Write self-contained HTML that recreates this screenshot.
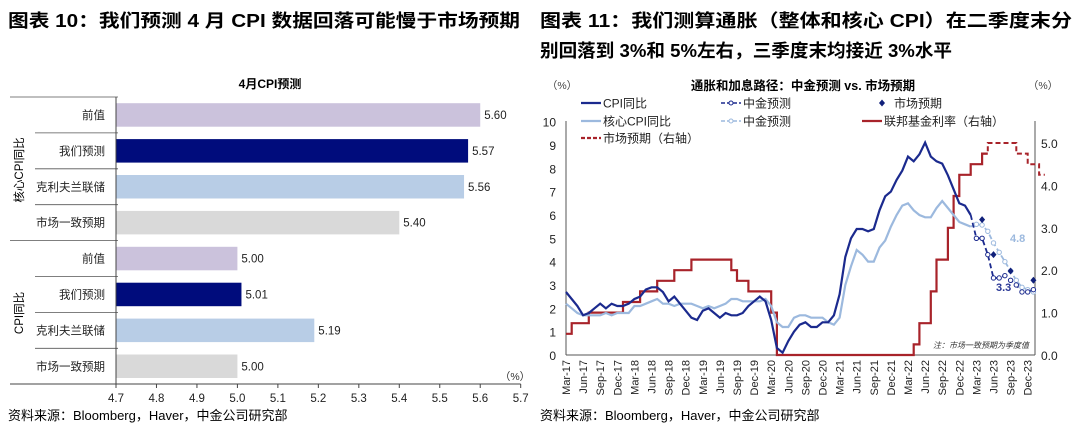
<!DOCTYPE html>
<html><head><meta charset="utf-8"><style>
html,body{margin:0;padding:0;background:#fff;}
svg{display:block;font-family:"Liberation Sans","Noto Sans CJK SC",sans-serif;}
</style></head><body>
<svg id="s" width="1080" height="432" viewBox="0 0 1080 432">
<text x="8" y="27" font-size="18" font-weight="bold" textLength="512" lengthAdjust="spacingAndGlyphs">图表 10：我们预测 4 月 CPI 数据回落可能慢于市场预期</text>
<text x="540" y="27" font-size="18" font-weight="bold" textLength="532" lengthAdjust="spacingAndGlyphs">图表 11：我们测算通胀（整体和核心 CPI）在二季度末分</text>
<text x="540" y="57" font-size="18" font-weight="bold" textLength="412" lengthAdjust="spacingAndGlyphs">别回落到 3%和 5%左右，三季度末均接近 3%水平</text>
<text x="8" y="420" font-size="13">资料来源：Bloomberg，Haver，中金公司研究部</text>
<text x="540" y="420" font-size="13">资料来源：Bloomberg，Haver，中金公司研究部</text>
<g id="left"></g>
<g id="right"></g>
</svg>
<script>
const NS="http://www.w3.org/2000/svg";
function mk(p,t,a,txt){const e=document.createElementNS(NS,t);for(const k in a)e.setAttribute(k,a[k]);if(txt!=null)e.textContent=txt;p.appendChild(e);return e;}

// ---- Left bar chart data ----
const barLabels=["前值","我们预测","克利夫兰联储","市场一致预期","前值","我们预测","克利夫兰联储","市场一致预期"];
const barValues=[5.60,5.57,5.56,5.40,5.00,5.01,5.19,5.00];
const barColors=["#cbc2dc","#000c7c","#b8cde6","#d9d9d9","#cbc2dc","#000c7c","#b8cde6","#d9d9d9"];
const xTicks=[4.7,4.8,4.9,5.0,5.1,5.2,5.3,5.4,5.5,5.6,5.7];

const L=document.getElementById('left');
const bx=v=>116+(v-4.7)*404.7;
const top0=97,rowH=35.9;
let t=mk(L,'text',{x:270,y:88,'font-size':12,'font-weight':'bold','text-anchor':'middle'},'4月CPI预测');

barValues.forEach((v,i)=>{
  const y=top0+i*rowH;
  const r=mk(L,'rect',{x:bx(4.7),y:y+6.2,width:bx(v)-bx(4.7),height:23.5,fill:barColors[i]});
  
  
  const lv=mk(L,'text',{x:bx(v)+4,y:y+22,'font-size':11.5,fill:'#222'},v.toFixed(2));
  
  
  const lb=mk(L,'text',{x:105,y:y+22,'font-size':11.5,'text-anchor':'end',fill:'#222'},barLabels[i]);
  
  
  if(i>0){const ln=mk(L,'line',{x1:(i==4?10:35),x2:118,y1:y,y2:y,stroke:'#555','stroke-width':0.8});
  }
});
mk(L,'line',{x1:10,x2:118,y1:top0,y2:top0,stroke:'#555','stroke-width':0.8});
mk(L,'line',{x1:10,x2:bx(5.7),y1:384,y2:384,stroke:'#444','stroke-width':1});
mk(L,'line',{x1:116,x2:116,y1:top0,y2:384,stroke:'#444','stroke-width':1});
xTicks.forEach(v=>{
  mk(L,'line',{x1:bx(v),x2:bx(v),y1:384,y2:388,stroke:'#444'});
  const tk=mk(L,'text',{x:bx(v),y:402,'font-size':11.5,'text-anchor':'middle',fill:'#222'},v.toFixed(1));
  
  
});
t=mk(L,'text',{x:515,y:380,'font-size':10.5,'text-anchor':'middle',fill:'#333'},'（%）');

t=mk(L,'text',{x:0,y:0,'font-size':11.5,'text-anchor':'middle',transform:'translate(23,170) rotate(-90)'},'核心CPI同比');

t=mk(L,'text',{x:0,y:0,'font-size':11.5,'text-anchor':'middle',transform:'translate(23,313) rotate(-90)'},'CPI同比');


// ---- Right line chart data (month index 0 = Mar-17) ----
const monthLabels=["Mar-17","Jun-17","Sep-17","Dec-17","Mar-18","Jun-18","Sep-18","Dec-18","Mar-19","Jun-19","Sep-19","Dec-19","Mar-20","Jun-20","Sep-20","Dec-20","Mar-21","Jun-21","Sep-21","Dec-21","Mar-22","Jun-22","Sep-22","Dec-22","Mar-23","Jun-23","Sep-23","Dec-23"];
const cpi=[2.7,2.4,2.1,1.7,1.8,2.0,2.2,2.0,2.2,2.1,2.1,2.2,2.4,2.5,2.8,2.9,2.9,2.7,2.3,2.5,2.2,1.9,1.6,1.5,1.9,2.0,1.8,1.6,1.8,1.7,1.7,1.8,2.1,2.3,2.5,2.3,1.5,0.3,0.1,0.6,1.0,1.3,1.4,1.2,1.2,1.4,1.4,1.7,2.6,4.2,5.0,5.4,5.4,5.3,5.4,6.2,6.8,7.0,7.5,7.9,8.5,8.3,8.6,9.1,8.5,8.3,8.2,7.7,7.1,6.5,6.4,6.0];
const cpiForecast=[null,5.0,5.0,4.3,3.3,3.3,3.4,3.2,3.0,2.7,2.7,2.8];
const core=[2.2,2.0,1.8,1.7,1.7,1.7,1.7,1.8,1.7,1.8,1.8,1.8,2.1,2.1,2.2,2.3,2.4,2.2,2.2,2.1,2.2,2.2,2.2,2.1,2.0,2.1,2.0,2.1,2.2,2.4,2.4,2.3,2.3,2.3,2.3,2.4,2.1,1.4,1.2,1.2,1.6,1.7,1.7,1.6,1.6,1.6,1.4,1.3,1.6,3.0,3.8,4.5,4.3,4.0,4.0,4.6,4.9,5.5,6.0,6.4,6.5,6.2,6.0,5.9,5.9,6.3,6.6,6.3,6.0,5.7,5.6,5.5];
const coreForecast=[null,5.6,5.57,5.3,4.8,4.4,4.0,3.6,3.2,2.9,2.8,2.7];
const marketMonths=[73,75,78,82];
const marketValues=[5.8,4.3,3.6,3.2];
const fed=[0.5,0.75,0.75,0.75,1.0,1.0,1.0,1.0,1.0,1.0,1.25,1.25,1.25,1.5,1.5,1.5,1.75,1.75,1.75,2.0,2.0,2.0,2.25,2.25,2.25,2.25,2.25,2.25,2.25,2.0,1.75,1.75,1.5,1.5,1.5,1.5,1.0,0,0,0,0,0,0,0,0,0,0,0,0,0,0,0,0,0,0,0,0,0,0,0,0,0.25,0.75,0.75,1.5,2.25,2.25,3.0,3.75,4.25,4.25,4.5,4.5,4.75];
const fedMarket=[null,null,null,null,null,null,null,null,null,null,null,null,null,null,null,null,null,null,null,null,null,null,null,null,null,null,null,null,null,null,null,null,null,null,null,null,null,null,null,null,null,null,null,null,null,null,null,null,null,null,null,null,null,null,null,null,null,null,null,null,null,null,null,null,null,null,null,null,null,null,null,null,null,4.75,5.0,5.0,5.0,5.0,5.0,4.75,4.75,4.5,4.5,4.25];
const leftTicks=[0,1,2,3,4,5,6,7,8,9,10];
const rightTicks=[0,1,2,3,4,5];

const R=document.getElementById('right');
const X=i=>566+i*5.70, YL=v=>355-v*23.34, YR=v=>355-v*42.4;
const FC0=70; // forecast start index (Jan-23 + offset)
mk(R,'line',{x1:566,x2:566,y1:121,y2:355,stroke:'#555'});
mk(R,'line',{x1:1035,x2:1035,y1:121,y2:355,stroke:'#555'});
mk(R,'line',{x1:566,x2:1035,y1:355,y2:355,stroke:'#555'});
leftTicks.forEach(v=>{const e=mk(R,'text',{x:556,y:YL(v)+5,'font-size':12,'text-anchor':'end',fill:'#222'},String(v));
});
rightTicks.forEach(v=>{const e=mk(R,'text',{x:1041,y:YR(v)+5,'font-size':12,fill:'#222'},v.toFixed(1));
});
monthLabels.forEach((m,k)=>{const e=mk(R,'text',{x:0,y:0,'font-size':11,'text-anchor':'end',fill:'#222',transform:`translate(${X(k*3)+4},360) rotate(-90)`},m);
});
t=mk(R,'text',{x:803,y:90,'font-size':12.5,'font-weight':'bold','text-anchor':'middle'},'通胀和加息路径：中金预测 vs. 市场预期');

mk(R,'text',{x:562,y:89,'font-size':10.5,fill:'#444','text-anchor':'middle'},'（%）');
mk(R,'text',{x:1043,y:89,'font-size':10.5,fill:'#444','text-anchor':'middle'},'（%）');

function path(arr,yf,off){let d='';arr.forEach((v,i)=>{if(v==null)return;d+=(d?'L':'M')+X(i+off).toFixed(1)+','+yf(v).toFixed(1);});return d;}
function stepPath(arr,yf){let d='',prev=null;arr.forEach((v,i)=>{if(v==null)return;if(prev==null)d+='M'+X(i)+','+yf(v);else d+='L'+X(i)+','+yf(prev)+'L'+X(i)+','+yf(v);prev=v;});d+='L'+X(arr.length)+','+yf(prev);return d;}
let fedP=mk(R,'path',{d:stepPath(fed,YR),fill:'none',stroke:'#a8232a','stroke-width':2.2});

let fm=fedMarket.slice();fm[72]=fed[72];
let fmP=mk(R,'path',{d:stepPath(fedMarket,YR),fill:'none',stroke:'#a8232a','stroke-width':2,'stroke-dasharray':'5,3'});

let coreP=mk(R,'path',{d:path(core,YL,0),fill:'none',stroke:'#9cb9de','stroke-width':2.2});

let cpiP=mk(R,'path',{d:path(cpi,YL,0),fill:'none',stroke:'#1b2a8e','stroke-width':2.2});

const cf=coreForecast.slice();cf[0]=core[core.length-1];
let cfP=mk(R,'path',{d:path(cf,YL,core.length-1),fill:'none',stroke:'#9cb9de','stroke-width':1.8,'stroke-dasharray':'5,3'});

const pf=cpiForecast.slice();pf[0]=cpi[cpi.length-1];
let pfP=mk(R,'path',{d:path(pf,YL,cpi.length-1),fill:'none',stroke:'#1b2a8e','stroke-width':1.8,'stroke-dasharray':'5,3'});

coreForecast.forEach((v,i)=>{if(v==null)return;const c=mk(R,'circle',{cx:X(i+core.length-1),cy:YL(v),r:2.2,fill:'#fff',stroke:'#9cb9de','stroke-width':1});
});
cpiForecast.forEach((v,i)=>{if(v==null)return;const c=mk(R,'circle',{cx:X(i+cpi.length-1),cy:YL(v),r:2.2,fill:'#fff',stroke:'#1b2a8e','stroke-width':1});
});
marketValues.forEach((v,i)=>{const x=X(marketMonths[i]),y=YL(v);const d=mk(R,'path',{d:`M${x},${y-3.5}L${x+3},${y}L${x},${y+3.5}L${x-3},${y}Z`,fill:'#10207a'});
});
t=mk(R,'text',{x:996,y:291,'font-size':11,'font-weight':'bold',fill:'#2a3896'},'3.3');

t=mk(R,'text',{x:1010,y:242,'font-size':11,'font-weight':'bold',fill:'#9cb9de'},'4.8');

t=mk(R,'text',{x:1029,y:348,'font-size':8,'font-style':'italic','text-anchor':'end',fill:'#333'},'注：市场一致预期为季度值');


// legend
function leg(x,y,kind,color,label,dash){
  const g=mk(R,'g',{});
  
  
  if(kind==='line')mk(g,'line',{x1:x,x2:x+20,y1:y,y2:y,stroke:color,'stroke-width':2.2,'stroke-dasharray':dash||''});
  if(kind==='dot'){mk(g,'line',{x1:x,x2:x+20,y1:y,y2:y,stroke:color,'stroke-width':1.6,'stroke-dasharray':'4,2'});mk(g,'circle',{cx:x+10,cy:y,r:2,fill:'#fff',stroke:color});}
  if(kind==='diamond')mk(g,'path',{d:`M${x+10},${y-3.5}L${x+13},${y}L${x+10},${y+3.5}L${x+7},${y}Z`,fill:color});
  mk(g,'text',{x:x+22,y:y+4.5,'font-size':12,fill:'#222'},label);
}
leg(581,103,'line','#1b2a8e','CPI同比');
leg(721,103,'dot','#1b2a8e','中金预测');
leg(872,103,'diamond','#10207a','市场预期');
leg(581,121,'line','#9cb9de','核心CPI同比');
leg(721,121,'dot','#9cb9de','中金预测');
leg(862,121,'line','#a8232a','联邦基金利率（右轴）');
leg(581,138,'line','#a8232a','市场预期（右轴）','4,2');
</script>
</body></html>
